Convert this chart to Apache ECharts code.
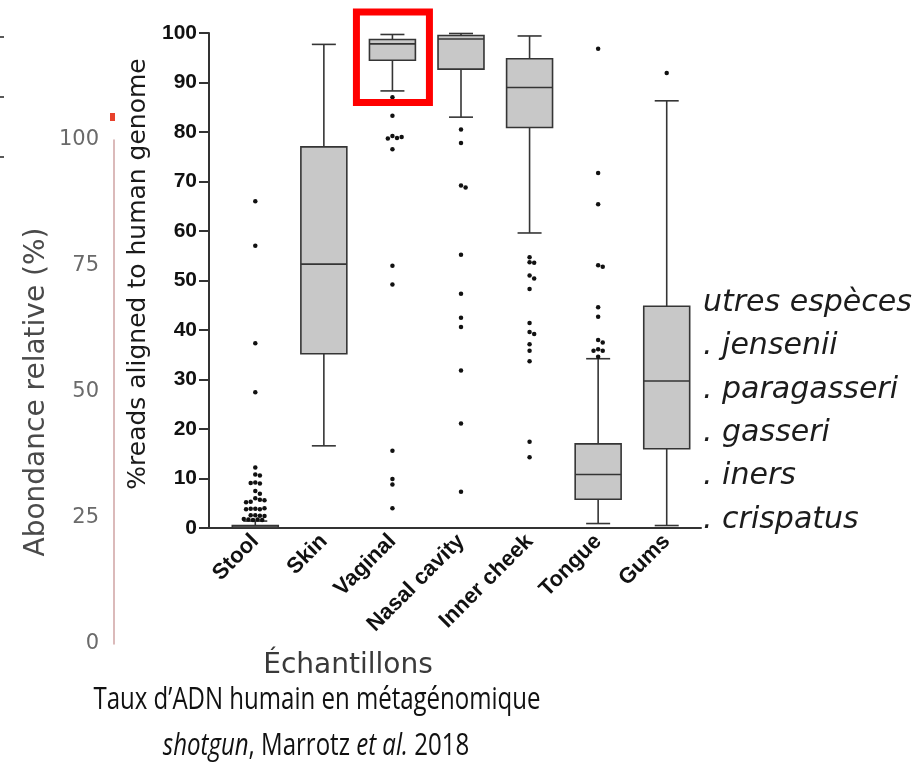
<!DOCTYPE html>
<html>
<head>
<meta charset="utf-8">
<script src="https://cdn.jsdelivr.net/npm/echarts@6/dist/echarts.min.js"></script>
<style>
  html, body { margin: 0; padding: 0; background: #ffffff; }
  #chart { width: 920px; height: 777px; }
</style>
</head>
<body>
<div id="chart"></div>
<script>
// Sample types on the x axis
const categories = ['Stool', 'Skin', 'Vaginal', 'Nasal cavity', 'Inner cheek', 'Tongue', 'Gums'];

// Box-and-whisker statistics, % reads aligned to the human genome
const whiskerLow  = [0.0, 16.6, 88.3, 83.0, 59.6, 0.9, 0.5];
const q1          = [0.0, 35.2, 94.5, 92.7, 80.9, 5.8, 16.0];
const median      = [0.2, 53.3, 97.8, 98.8, 89.0, 10.8, 29.7];
const q3          = [0.5, 77.0, 98.7, 99.5, 94.8, 17.0, 44.8];
const whiskerHigh = [1.4, 97.7, 99.7, 99.9, 99.4, 34.2, 86.3];

// Outlying samples per sample type
const stoolOutliers = [66.0, 57.0, 37.3, 27.4, 12.2, 10.8, 10.6, 9.2, 9.0, 9.1, 7.5, 6.9,
  6.0, 5.7, 5.3, 5.6, 5.2, 3.9, 3.8, 3.9, 4.0, 3.8, 2.6, 2.5, 2.6, 2.4, 1.7, 1.6, 1.7, 1.8, 1.6];
const skinOutliers = [];
const vaginalOutliers = [87.0, 83.3, 79.2, 78.8, 78.7, 79.0, 76.5, 53.0, 49.2, 15.6, 9.9, 8.8, 4.0];
const nasalOutliers = [80.5, 77.8, 69.2, 68.8, 55.2, 47.3, 42.5, 40.6, 31.8, 21.1, 7.3];
const cheekOutliers = [54.7, 53.7, 53.6, 51.0, 50.4, 48.3, 41.4, 39.6, 39.2, 37.1, 35.8, 33.7, 17.4, 14.3];
const tongueOutliers = [96.8, 71.7, 65.4, 53.1, 52.8, 44.6, 42.7, 38.0, 37.5, 36.1, 35.8, 35.8, 34.6];
const gumsOutliers = [91.9];

// Axis ranges and tick steps
const readsRange = [0, 100];
const readsStep = 10;
const abundanceRange = [0, 100];
const abundanceStep = 25;

// Species names listed at the right edge
const speciesLabels = ['utres espèces', '. jensenii', '. paragasseri', '. gasseri', '. iners', '. crispatus'];

// ---- layout ----
const MAIN = { left: 221, top: 33, width: 480, height: 495 };
const AXIS_OFFSET = 12;
const BACK = { left: 114, top: 140, width: 2, height: 504 };
const DOT_R = 2.25;
const DOT_D = 4.6;
const LINE = '#353535';

const outlierGroups = [stoolOutliers, skinOutliers, vaginalOutliers, nasalOutliers,
  cheekOutliers, tongueOutliers, gumsOutliers];

// Simple beeswarm: push each dot sideways until it no longer overlaps the ones already placed
function swarm(values, pxPerUnit) {
  const placed = [];
  return values.map(v => {
    const y = v * pxPerUnit;
    let dx = 0;
    for (let k = 0; k < 40; k++) {
      const step = Math.ceil(k / 2) * (k % 2 ? 1 : -1) * DOT_D / 2;
      const ok = placed.every(p => Math.hypot(p[0] - step, p[1] - y) >= DOT_D * 0.98);
      if (ok) { dx = step; break; }
    }
    placed.push([dx, y]);
    return dx;
  });
}

const pxPerUnit = MAIN.height / (readsRange[1] - readsRange[0]);
const boxData = categories.map((c, i) => [i, whiskerLow[i], q1[i], median[i], q3[i], whiskerHigh[i]]);
const dotData = [];
outlierGroups.forEach((vals, i) => {
  const offs = swarm(vals, pxPerUnit);
  vals.forEach((v, j) => dotData.push([i, v, offs[j]]));
});

function renderBox(params, api) {
  const i = api.value(0);
  const pLow = api.coord([i, api.value(1)]);
  const pQ1 = api.coord([i, api.value(2)]);
  const pMed = api.coord([i, api.value(3)]);
  const pQ3 = api.coord([i, api.value(4)]);
  const pHigh = api.coord([i, api.value(5)]);
  const band = api.size([1, 0])[0];
  const hb = band * 0.335;
  const hc = band * 0.175;
  const cx = pMed[0];
  const ls = { stroke: LINE, lineWidth: 1.6 };
  return {
    type: 'group',
    children: [
      { type: 'line', shape: { x1: cx, y1: pQ3[1], x2: cx, y2: pHigh[1] }, style: ls },
      { type: 'line', shape: { x1: cx, y1: pQ1[1], x2: cx, y2: pLow[1] }, style: ls },
      { type: 'line', shape: { x1: cx - hc, y1: pHigh[1], x2: cx + hc, y2: pHigh[1] }, style: ls },
      { type: 'line', shape: { x1: cx - hc, y1: pLow[1], x2: cx + hc, y2: pLow[1] }, style: ls },
      { type: 'rect', shape: { x: cx - hb, y: pQ3[1], width: 2 * hb, height: pQ1[1] - pQ3[1] },
        style: { fill: '#c8c8c8', stroke: LINE, lineWidth: 1.6 } },
      { type: 'line', shape: { x1: cx - hb, y1: pMed[1], x2: cx + hb, y2: pMed[1] }, style: ls }
    ]
  };
}

function renderDot(params, api) {
  const p = api.coord([api.value(0), api.value(1)]);
  return {
    type: 'circle',
    shape: { cx: p[0] + api.value(2), cy: p[1], r: DOT_R },
    style: { fill: '#111111' }
  };
}

const chart = echarts.init(document.getElementById('chart'), null, { renderer: 'canvas' });

const option = {
  animation: false,
  backgroundColor: '#ffffff',
  grid: [
    { left: MAIN.left, top: MAIN.top, width: MAIN.width, height: MAIN.height, containLabel: false },
    { left: BACK.left, top: BACK.top, width: BACK.width, height: BACK.height, containLabel: false }
  ],
  xAxis: [
    {
      type: 'category', gridIndex: 0, data: categories, boundaryGap: true,
      axisLine: { lineStyle: { color: '#333333', width: 2 } },
      axisTick: { alignWithLabel: true, interval: 0, length: 8, lineStyle: { color: '#333333', width: 2 } },
      axisLabel: {
        interval: 0, rotate: 45, margin: 10,
        fontFamily: 'Liberation Sans', fontWeight: 'bold', fontSize: 22, color: '#111111'
      },
      splitLine: { show: false }
    },
    { type: 'value', gridIndex: 1, show: false }
  ],
  yAxis: [
    {
      type: 'value', gridIndex: 0, min: readsRange[0], max: readsRange[1], interval: readsStep,
      offset: AXIS_OFFSET,
      name: '%reads aligned to human genome', nameLocation: 'middle', nameGap: 58,
      nameTextStyle: { fontFamily: 'DejaVu Sans', fontSize: 25, color: '#1a1a1a', padding: [0, 0, 0, 13] },
      axisLine: { show: true, lineStyle: { color: '#333333', width: 2 } },
      axisTick: { show: true, length: 10, lineStyle: { color: '#333333', width: 2 } },
      axisLabel: { margin: 12, fontFamily: 'Liberation Sans', fontWeight: 'bold', fontSize: 21, color: '#111111' },
      splitLine: { show: false }
    },
    {
      type: 'value', gridIndex: 1, min: abundanceRange[0], max: abundanceRange[1], interval: abundanceStep,
      name: 'Abondance relative (%)', nameLocation: 'middle', nameGap: 63,
      nameTextStyle: { fontFamily: 'DejaVu Sans', fontSize: 28, color: '#4a4a4a' },
      axisLine: { show: true, lineStyle: { color: '#cfa3a3', width: 1.5 } },
      axisTick: { show: false },
      axisLabel: { margin: 15, fontFamily: 'DejaVu Sans', fontSize: 21, color: '#6a6a6a' },
      splitLine: { show: false }
    }
  ],
  series: [
    {
      type: 'custom', name: 'box', xAxisIndex: 0, yAxisIndex: 0,
      renderItem: renderBox, data: boxData,
      encode: { x: 0, y: [1, 2, 3, 4, 5] }, z: 2
    },
    {
      type: 'custom', name: 'outliers', xAxisIndex: 0, yAxisIndex: 0,
      renderItem: renderDot, data: dotData,
      encode: { x: 0, y: 1 }, z: 3
    }
  ]
};
chart.setOption(option);

// Annotations placed from the axis scales
const vi = categories.indexOf('Vaginal');
const hiPt = chart.convertToPixel({ gridIndex: 0 }, [vi, whiskerHigh[vi]]);
const loPt = chart.convertToPixel({ gridIndex: 0 }, [vi, whiskerLow[vi]]);
const origin = chart.convertToPixel({ gridIndex: 0 }, [0, readsRange[0]]);
const axisX = MAIN.left - AXIS_OFFSET;

const graphics = [
  // x-axis line joining the shifted y axis
  { type: 'line', shape: { x1: axisX, y1: origin[1], x2: MAIN.left, y2: origin[1] },
    style: { stroke: '#333333', lineWidth: 2 }, z: 5 },
  // highlight frame around the vaginal samples
  { type: 'rect', shape: { x: hiPt[0] - 36, y: hiPt[1] - 22.5, width: 73, height: (loPt[1] + 11.5) - (hiPt[1] - 22.5) },
    style: { fill: 'none', stroke: '#ff0000', lineWidth: 7 }, z: 10 },
  // marker at the top of the abundance axis
  { type: 'rect', shape: { x: 110, y: 113, width: 5, height: 8 }, style: { fill: '#e8412c' }, z: 5 },
  // edge ticks
  { type: 'line', shape: { x1: 0, y1: 37, x2: 4, y2: 37 }, style: { stroke: '#222', lineWidth: 1.5 } },
  { type: 'line', shape: { x1: 0, y1: 97, x2: 4, y2: 97 }, style: { stroke: '#222', lineWidth: 1.5 } },
  { type: 'line', shape: { x1: 0, y1: 157, x2: 4, y2: 157 }, style: { stroke: '#222', lineWidth: 1.5 } },
  // x axis title of the abundance chart
  { type: 'text', x: 348, y: 666,
    style: { text: 'Échantillons', fontFamily: 'DejaVu Sans', fontSize: 28, fill: '#3a3a3a',
      align: 'center', verticalAlign: 'middle' } },
  // caption
  { type: 'text', x: 317, y: 700, scaleX: 0.775,
    style: { text: 'Taux d’ADN humain en métagénomique', fontFamily: 'Open Sans', fontSize: 31, fill: '#111111',
      align: 'center', verticalAlign: 'middle' } },
  { type: 'text', x: 316, y: 746, scaleX: 0.775,
    style: {
      text: '{i|shotgun}, Marrotz {i|et al.} 2018',
      fontFamily: 'Open Sans', fontSize: 31, fill: '#111111', align: 'center', verticalAlign: 'middle',
      rich: { i: { fontFamily: 'Open Sans', fontSize: 31, fontStyle: 'italic', fill: '#111111' } }
    } }
];
speciesLabels.forEach((s, k) => {
  graphics.push({ type: 'text', x: 703, y: 303 + k * 43.4,
    style: { text: s, fontFamily: 'DejaVu Sans', fontStyle: 'oblique', fontSize: 30, fill: '#1c1c1c',
      align: 'left', verticalAlign: 'middle' } });
});
chart.setOption({ graphic: graphics });
</script>
</body>
</html>
